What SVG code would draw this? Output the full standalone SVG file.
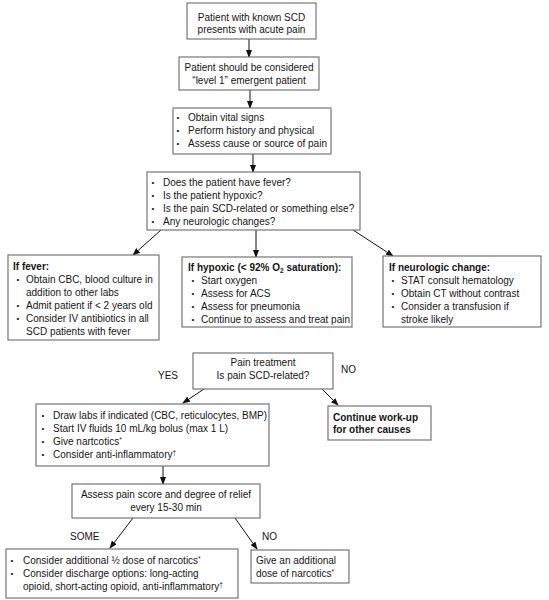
<svg xmlns="http://www.w3.org/2000/svg" width="549" height="600" viewBox="0 0 549 600">
<defs>
<marker id="ah" markerWidth="8" markerHeight="6" refX="7" refY="3" orient="auto" markerUnits="userSpaceOnUse">
<path d="M0,0 L8,3 L0,6 Z" fill="#111"/>
</marker>
<style>
.box{fill:#fff;stroke:#6a6a6a;stroke-width:1.1}
text{font-family:"Liberation Sans",Arial,sans-serif;font-size:10px;fill:#151515}
.c{text-anchor:middle}
.b{font-weight:bold}
.bu{font-size:8px}
.sup{font-size:6.5px}
.conn line{stroke:#111;stroke-width:1;marker-end:url(#ah)}
</style>
</defs>
<rect width="549" height="600" fill="#fff"/>

<g class="conn" id="connectors">
<line x1="249" y1="39" x2="249" y2="57"/>
<line x1="250" y1="90" x2="250" y2="108"/>
<line x1="253" y1="154" x2="253" y2="172"/>
<line x1="161" y1="230" x2="133" y2="255"/>
<line x1="256" y1="230" x2="256" y2="257"/>
<line x1="353" y1="230" x2="393" y2="256"/>
<line x1="204" y1="389" x2="183" y2="403"/>
<line x1="322" y1="389" x2="338" y2="405"/>
<line x1="163" y1="466" x2="163" y2="484"/>
<line x1="133" y1="518" x2="110" y2="548"/>
<line x1="235" y1="518" x2="257" y2="549"/>
</g>

<g id="n1">
<rect class="box" x="187" y="3" width="129" height="36"/>
<text class="c" x="251.5" y="20.5">Patient with known SCD</text>
<text class="c" x="251.5" y="32.5">presents with acute pain</text>
</g>

<g id="n2">
<rect class="box" x="179" y="57" width="140" height="33"/>
<text class="c" x="249" y="70.5">Patient should be considered</text>
<text class="c" x="249" y="83.5">“level 1” emergent patient</text>
</g>

<g id="n3">
<rect class="box" x="173" y="108" width="158" height="46"/>
<text class="bu" x="176.5" y="120">•</text><text x="188" y="120.5">Obtain vital signs</text>
<text class="bu" x="176.5" y="133">•</text><text x="188" y="133.5">Perform history and physical</text>
<text class="bu" x="176.5" y="146">•</text><text x="188" y="146.5">Assess cause or source of pain</text>
</g>

<g id="n4">
<rect class="box" x="147" y="172" width="213" height="58"/>
<text class="bu" x="151.5" y="185">•</text><text x="163" y="185.5">Does the patient have fever?</text>
<text class="bu" x="151.5" y="198">•</text><text x="163" y="198.5">Is the patient hypoxic?</text>
<text class="bu" x="151.5" y="211">•</text><text x="163" y="211.5">Is the pain SCD-related or something else?</text>
<text class="bu" x="151.5" y="224">•</text><text x="163" y="224.5">Any neurologic changes?</text>
</g>

<g id="n5">
<rect class="box" x="8" y="255" width="151" height="85"/>
<text class="b" x="13" y="269.5">If fever:</text>
<text class="bu" x="16.5" y="282">•</text><text x="26" y="282.5">Obtain CBC, blood culture in</text>
<text x="26" y="295.5">addition to other labs</text>
<text class="bu" x="16.5" y="308">•</text><text x="26" y="308.5">Admit patient if &lt; 2 years old</text>
<text class="bu" x="16.5" y="321">•</text><text x="26" y="321.5">Consider IV antibiotics in all</text>
<text x="26" y="334.5">SCD patients with fever</text>
</g>

<g id="n6">
<rect class="box" x="182" y="257" width="170" height="70"/>
<text class="b" x="188" y="270.5">If hypoxic (&lt; 92% O<tspan class="sup" dy="2">2</tspan><tspan dy="-2"> saturation):</tspan></text>
<text class="bu" x="191.5" y="283">•</text><text x="201" y="283.5">Start oxygen</text>
<text class="bu" x="191.5" y="296">•</text><text x="201" y="296.5">Assess for ACS</text>
<text class="bu" x="191.5" y="309">•</text><text x="201" y="309.5">Assess for pneumonia</text>
<text class="bu" x="191.5" y="322">•</text><text x="201" y="322.5">Continue to assess and treat pain</text>
</g>

<g id="n7">
<rect class="box" x="383" y="256" width="158" height="71"/>
<text class="b" x="389" y="270.5">If neurologic change:</text>
<text class="bu" x="391.5" y="283">•</text><text x="401" y="283.5">STAT consult hematology</text>
<text class="bu" x="391.5" y="296">•</text><text x="401" y="296.5">Obtain CT without contrast</text>
<text class="bu" x="391.5" y="309">•</text><text x="401" y="309.5">Consider a transfusion if</text>
<text x="401" y="322.5">stroke likely</text>
</g>

<g id="n8">
<rect class="box" x="193" y="353" width="140" height="36"/>
<text class="c" x="263" y="366">Pain treatment</text>
<text class="c" x="263" y="378.5">Is pain SCD-related?</text>
</g>
<text x="158" y="378.5">YES</text>
<text x="341" y="372.5">NO</text>

<g id="n9">
<rect class="box" x="328" y="406" width="103" height="34"/>
<text class="b" x="333" y="420.5">Continue work-up</text>
<text class="b" x="333" y="433">for other causes</text>
</g>

<g id="n10">
<rect class="box" x="36" y="404" width="233" height="62"/>
<text class="bu" x="41.5" y="418">•</text><text x="53" y="418.5">Draw labs if indicated (CBC, reticulocytes, BMP)</text>
<text class="bu" x="41.5" y="431">•</text><text x="53" y="431.5">Start IV fluids 10 mL/kg bolus (max 1 L)</text>
<text class="bu" x="41.5" y="444">•</text><text x="53" y="444.5">Give nartcotics<tspan class="sup" dy="-3">*</tspan></text>
<text class="bu" x="41.5" y="457">•</text><text x="53" y="457.5">Consider anti-inflammatory<tspan class="sup" dy="-3">†</tspan></text>
</g>

<g id="n11">
<rect class="box" x="72" y="484" width="188" height="34"/>
<text class="c" x="166" y="497.5">Assess pain score and degree of relief</text>
<text class="c" x="166" y="510.5">every 15-30 min</text>
</g>
<text x="70" y="539.5">SOME</text>
<text x="262" y="539.5">NO</text>

<g id="n12">
<rect class="box" x="6" y="549" width="232" height="49"/>
<text class="bu" x="10.5" y="563">•</text><text x="23" y="563.5">Consider additional ½ dose of narcotics<tspan class="sup" dy="-3">*</tspan></text>
<text class="bu" x="10.5" y="576">•</text><text x="23" y="576.5">Consider discharge options: long-acting</text>
<text x="23" y="589.5">opioid, short-acting opioid, anti-inflammatory<tspan class="sup" dy="-3">†</tspan></text>
</g>

<g id="n13">
<rect class="box" x="251" y="550" width="98" height="33"/>
<text x="256" y="563.5">Give an additional</text>
<text x="256" y="576.5">dose of narcotics<tspan class="sup" dy="-3">*</tspan></text>
</g>
</svg>
